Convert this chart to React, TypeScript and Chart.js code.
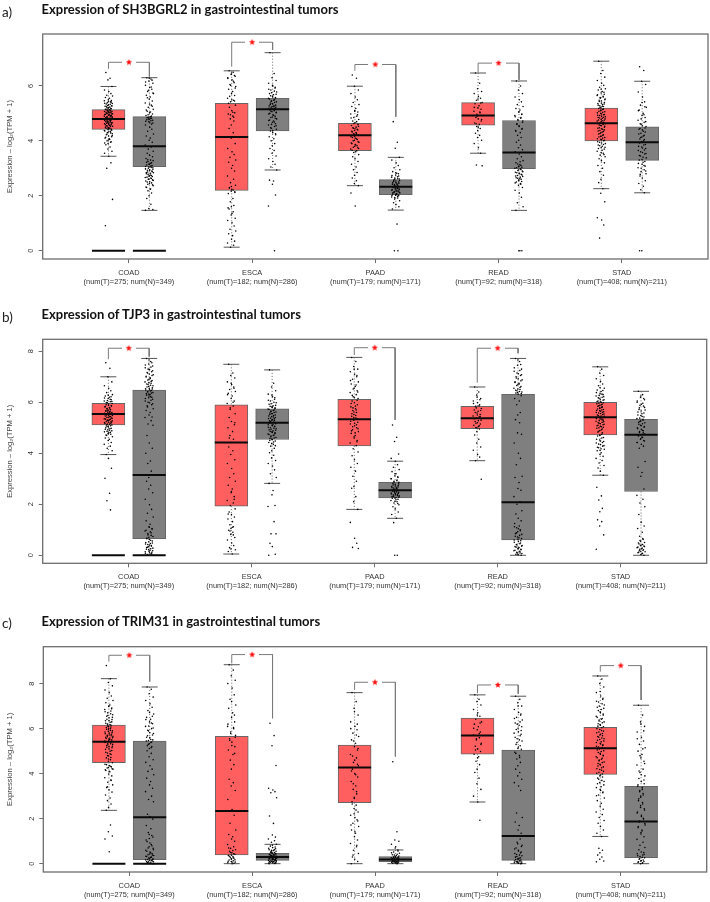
import React, { useEffect, useRef } from "react";
import { Chart, registerables } from "chart.js";

Chart.register(...registerables);

const categories = ["COAD", "ESCA", "PAAD", "READ", "STAD"];
const sampleLabels = [
  "(num(T)=275; num(N)=349)",
  "(num(T)=182; num(N)=286)",
  "(num(T)=179; num(N)=171)",
  "(num(T)=92; num(N)=318)",
  "(num(T)=408; num(N)=211)",
];
const yAxisLabel = "Expression \u2013 log\u2082(TPM + 1)";

// Each box: whisker top, q3, median, q1, whisker bottom; order COAD T, COAD N, ESCA T, ESCA N ...
const boxesA = [
  [5.98, 5.14, 4.8, 4.42, 3.44], [6.3, 4.88, 3.8, 3.06, 1.47],
  [6.55, 5.37, 4.14, 2.2, 0.13], [7.21, 5.55, 5.15, 4.36, 2.94],
  [5.99, 4.64, 4.2, 3.64, 2.37], [3.4, 2.59, 2.33, 2.04, 1.48],
  [6.47, 5.39, 4.92, 4.57, 3.55], [6.18, 4.74, 3.58, 2.99, 1.47],
  [6.9, 5.19, 4.64, 4.0, 2.26], [6.17, 4.51, 3.95, 3.29, 2.11],
];
const boxesB = [
  [7.0, 5.96, 5.54, 5.11, 3.95], [7.72, 6.48, 3.15, 0.65, 0],
  [7.49, 5.9, 4.42, 1.93, 0.05], [7.27, 5.74, 5.2, 4.54, 2.82],
  [7.76, 6.12, 5.33, 4.29, 1.8], [3.69, 2.86, 2.55, 2.25, 1.45],
  [6.6, 5.84, 5.37, 4.97, 3.71], [7.72, 6.31, 2.08, 0.6, 0],
  [7.39, 6.0, 5.41, 4.72, 3.14], [6.43, 5.33, 4.73, 2.5, 0],
];
const boxesC = [
  [8.22, 6.16, 5.42, 4.49, 2.37], [7.85, 5.45, 2.06, 0.18, 0],
  [8.84, 5.66, 2.34, 0.39, 0], [0.86, 0.46, 0.3, 0.15, 0],
  [7.6, 5.27, 4.27, 2.71, 0], [0.61, 0.31, 0.19, 0.09, 0],
  [7.5, 6.47, 5.69, 4.86, 2.74], [7.44, 5.05, 1.23, 0.15, 0],
  [8.34, 6.06, 5.13, 3.97, 1.21], [7.04, 3.44, 1.87, 0.27, 0],
];

// Brackets: category index, top, left end, right end
const bracketsA = [[0, 6.86, 6.62, 6.34], [1, 7.59, 6.7, 7.31], [2, 6.78, 6.55, 4.88], [3, 6.83, 6.49, 6.22]];
const bracketsB = [[0, 8.12, 7.69, 7.79], [2, 8.14, 7.85, 5.31], [3, 8.12, 6.77, 7.92]];
const bracketsC = [[0, 9.26, 8.98, 8.09], [1, 9.29, 8.9, 6.46], [2, 8.06, 7.72, 4.76], [3, 7.94, 7.57, 7.54], [4, 8.8, 8.53, 7.27]];

const zeroBarsAll = [0, 1];
const ticksA = [0, 2, 4, 6];
const ticksB = [0, 2, 4, 6, 8];
const ticksC = [0, 2, 4, 6, 8];

// Jitter pattern across a box's point column
const jitterSteps = [-0.62, 0.37, -0.13, 0.83, -0.94, 0.08, 0.58, -0.41, 0.97, -0.73, 0.22, -0.04, 0.69, -0.99, 0.46, -0.27, 0.91, -0.52, 0.03, 0.74, -0.81, 0.29, -0.34, 0.51, -0.09];

const pointsA = [
  [6.49,6.28,6.22,5.98,5.85,5.8,5.72,5.66,5.63,5.58,5.55,5.5,5.47,5.46,5.42,5.39,5.36,5.34,5.31,5.28,5.26,5.23,5.2,5.19,5.16,5.14,5.12,5.1,5.08,5.07,5.05,5.03,5.0,4.99,4.97,4.95,4.94,4.91,4.9,4.88,4.86,4.85,4.83,4.81,4.8,4.78,4.76,4.75,4.73,4.71,4.7,4.68,4.66,4.65,4.62,4.6,4.58,4.55,4.53,4.5,4.47,4.45,4.42,4.38,4.35,4.3,4.26,4.22,4.18,4.15,4.1,4.05,4.0,3.95,3.9,3.86,3.78,3.7,3.62,3.55,3.44,3.2,3.0,1.87,0.91],
  [6.3,6.25,6.18,6.1,6.02,5.94,5.88,5.8,5.72,5.66,5.6,5.52,5.45,5.38,5.3,5.22,5.15,5.08,5.02,4.98,4.92,4.88,4.85,4.82,4.8,4.77,4.73,4.7,4.65,4.58,4.5,4.42,4.35,4.25,4.18,4.1,4.02,3.95,3.85,3.78,3.7,3.62,3.55,3.48,3.42,3.36,3.3,3.25,3.2,3.16,3.12,3.08,3.05,3.02,2.98,2.95,2.9,2.87,2.84,2.8,2.76,2.73,2.7,2.67,2.63,2.6,2.56,2.5,2.45,2.4,2.32,2.25,2.18,2.1,2.0,1.9,1.69,1.54,1.5,1.47],
  [6.55,6.5,6.42,6.35,6.3,6.22,6.12,6.05,5.98,5.88,5.8,5.72,5.65,5.55,5.48,5.42,5.3,5.22,5.1,5.02,4.98,4.9,4.8,4.72,4.58,4.45,4.3,4.1,3.9,3.72,3.6,3.5,3.4,3.3,3.22,3.1,3.0,2.9,2.72,2.6,2.48,2.38,2.3,2.24,2.15,2.08,1.9,1.78,1.65,1.6,1.52,1.42,1.3,1.18,1.1,1.02,0.9,0.78,0.72,0.62,0.55,0.42,0.35,0.28,0.2,0.13],
  [7.21,6.45,6.3,6.2,6.1,6.0,5.92,5.85,5.78,5.72,5.68,5.62,5.58,5.55,5.5,5.46,5.42,5.38,5.34,5.3,5.27,5.24,5.2,5.18,5.15,5.12,5.1,5.06,5.02,4.98,4.95,4.9,4.85,4.8,4.76,4.72,4.68,4.62,4.58,4.52,4.46,4.42,4.36,4.3,4.22,4.15,4.08,4.0,3.9,3.82,3.72,3.65,3.55,3.45,3.35,3.25,3.15,3.05,2.94,2.57,2.54,2.42,2.03,1.63,0],
  [6.4,6.28,5.99,5.85,5.72,5.6,5.5,5.4,5.32,5.25,5.18,5.1,5.05,4.98,4.9,4.85,4.78,4.72,4.66,4.6,4.56,4.5,4.46,4.42,4.38,4.32,4.28,4.24,4.2,4.15,4.1,4.05,4.0,3.95,3.9,3.85,3.8,3.75,3.7,3.64,3.58,3.5,3.42,3.35,3.25,3.15,3.05,2.95,2.85,2.75,2.65,2.55,2.45,2.37,2.1,1.63],
  [4.7,3.95,3.73,3.4,3.3,3.2,3.1,3.02,2.95,2.88,2.82,2.76,2.72,2.68,2.62,2.6,2.56,2.52,2.48,2.46,2.42,2.4,2.37,2.34,2.32,2.3,2.27,2.25,2.22,2.2,2.17,2.15,2.12,2.1,2.07,2.05,2.02,2.0,1.96,1.92,1.88,1.82,1.75,1.68,1.6,1.52,0.97,0,0],
  [6.47,6.1,5.9,5.8,5.72,5.62,5.55,5.48,5.4,5.35,5.28,5.2,5.15,5.08,5.02,4.97,4.92,4.85,4.8,4.72,4.65,4.6,4.52,4.45,4.38,4.28,4.2,4.12,4.02,3.9,3.75,3.55,3.12,3.09],
  [6.18,6.0,5.85,5.72,5.6,5.5,5.42,5.32,5.25,5.18,5.12,5.05,4.98,4.92,4.85,4.78,4.72,4.62,4.55,4.45,4.38,4.3,4.2,4.12,4.02,3.95,3.85,3.75,3.68,3.6,3.52,3.42,3.35,3.28,3.2,3.14,3.08,3.04,3.0,2.96,2.92,2.88,2.84,2.8,2.76,2.72,2.68,2.64,2.6,2.55,2.5,2.45,2.38,2.3,2.2,2.1,1.95,1.75,1.6,1.47,0,0,0],
  [6.9,6.56,6.45,6.32,6.2,6.1,6.02,5.95,5.9,5.85,5.8,5.74,5.7,5.65,5.6,5.58,5.52,5.48,5.45,5.4,5.36,5.32,5.28,5.25,5.2,5.18,5.14,5.1,5.06,5.02,4.98,4.95,4.92,4.88,4.85,4.82,4.78,4.75,4.72,4.68,4.65,4.62,4.58,4.55,4.5,4.46,4.42,4.38,4.34,4.3,4.25,4.2,4.16,4.12,4.08,4.04,4.0,3.95,3.9,3.85,3.8,3.75,3.7,3.62,3.55,3.48,3.42,3.35,3.28,3.2,3.1,3.0,2.88,2.75,2.6,2.48,2.26,2.09,1.78,1.2,1.12,0.94,0.46],
  [6.7,6.56,6.17,6.05,5.78,5.6,5.42,5.3,5.22,5.12,5.0,4.92,4.85,4.75,4.68,4.6,4.52,4.45,4.4,4.32,4.25,4.18,4.12,4.05,3.98,3.92,3.85,3.78,3.72,3.65,3.58,3.52,3.45,3.38,3.3,3.22,3.15,3.08,3.02,2.95,2.88,2.8,2.72,2.65,2.55,2.45,2.35,2.22,2.11,0,0],
];
// Extra points read from the dense parts of each column
const densePointsA = [
  [5.44,5.41,5.37,5.33,5.29,5.27,5.24,5.21,5.17,5.15,5.13,5.11,5.09,5.06,5.04,5.02,5.01,4.98,4.96,4.93,4.92,4.89,4.87,4.84,4.82,4.79,4.77,4.74,4.72,4.69,4.67,4.64,4.63,4.61,4.59,4.56,4.54,4.52,4.49,4.46,4.44,4.41,4.39,4.36,4.33,4.29,4.24,4.19,4.13,4.08,4.03,3.97,3.92],
  [6.28,6.21,6.14,5.96,5.84,5.74,5.57,5.34,5.26,5.12,5.05,4.95,4.9,4.87,4.84,4.81,4.79,4.75,4.71,4.66,4.61,3.31,3.28,3.22,3.18,3.14,3.1,3.07,3.03,3.0,2.97,2.93,2.91,2.88,2.85,2.82,2.78,2.74,2.71,2.68,2.65,2.61,2.58,2.54,2.51,2.47,2.42,2.37,2.3,2.24],
  [6.47,6.38,6.27,6.17,6.02,5.92,5.62,5.5,5.45,5.37,5.04,4.95,4.86,2.34,2.28,2.21,2.17,2.12,1.56,1.36],
  [6.02,5.95,5.88,5.81,5.75,5.7,5.64,5.6,5.56,5.52,5.48,5.44,5.4,5.36,5.32,5.28,5.25,5.22,5.19,5.16,5.13,5.08,5.04,5.0,4.93,4.87,4.82,4.74,4.69,4.6,4.55,4.48,4.38,4.26],
  [5.08,4.95,4.83,4.7,4.63,4.53,4.48,4.44,4.4,4.35,4.3,4.26,4.22,4.17,4.12,4.08,4.02,3.97,3.92,3.87,3.82,3.77,3.72,3.66,3.6],
  [2.84,2.8,2.74,2.69,2.65,2.61,2.57,2.54,2.5,2.47,2.44,2.41,2.38,2.35,2.33,2.31,2.28,2.26,2.23,2.21,2.18,2.16,2.13,2.11,2.08,2.06,2.03,2.01,1.98,1.94],
  [5.52,5.38,5.22,5.05,4.9,4.78,4.62,4.5],
  [5.05,4.96,4.88,4.82,4.75,4.68,4.6,4.52,4.42,4.35,3.24,3.16,3.1,3.06,3.02,2.98,2.94,2.9,2.86,2.82,2.78,2.74,2.7,2.66,2.62,2.58,2.52,2.47,2.42],
  [5.88,5.77,5.68,5.62,5.55,5.5,5.43,5.38,5.34,5.3,5.26,5.22,5.16,5.12,5.08,5.04,5.0,4.96,4.93,4.9,4.86,4.83,4.8,4.76,4.73,4.7,4.66,4.63,4.6,4.56,4.53,4.48,4.44,4.4,4.36,4.32,4.27,4.22,4.18,4.14,4.1,4.06,4.02,3.97,3.92,3.87,3.82,3.77,3.72,3.66,3.58,3.5],
  [5.4,5.24,5.1,4.95,4.8,4.7,4.62,4.55,4.47,4.42,4.35,4.28,4.2,4.14,4.07,4.0,3.94,3.87,3.8,3.74,3.67,3.6,3.54,3.47,3.4,3.32,3.25,3.18,3.1,3.0,2.9,2.78],
];

const pointsB = [
  [7.55,7.33,7.0,6.8,6.65,6.55,6.45,6.38,6.3,6.25,6.2,6.15,6.1,6.05,6.02,5.98,5.95,5.9,5.88,5.85,5.82,5.78,5.76,5.72,5.7,5.67,5.64,5.62,5.6,5.57,5.55,5.53,5.5,5.48,5.46,5.43,5.4,5.38,5.35,5.33,5.3,5.27,5.25,5.22,5.2,5.17,5.14,5.12,5.08,5.05,5.0,4.96,4.92,4.88,4.84,4.8,4.75,4.7,4.65,4.6,4.55,4.5,4.42,4.35,4.28,4.2,4.1,3.95,3.8,3.41,3.02,2.43,2.14,1.78],
  [7.72,7.6,7.5,7.42,7.35,7.28,7.2,7.15,7.08,7.02,6.96,6.9,6.85,6.8,6.75,6.7,6.65,6.6,6.55,6.52,6.48,6.44,6.4,6.36,6.32,6.28,6.22,6.18,6.12,6.05,5.98,5.9,5.82,5.75,5.68,5.6,5.5,5.42,5.4,5.28,5.15,5.1,4.7,4.4,4.2,4.0,3.7,3.6,3.3,3.05,2.9,2.75,2.6,2.45,2.2,1.98,1.8,1.65,1.5,1.35,1.22,1.12,1.02,0.95,0.88,0.8,0.74,0.68,0.62,0.56,0.5,0.46,0.42,0.38,0.34,0.3,0.26,0.22,0.18,0.14,0.1,0.06,0.03,0],
  [7.49,7.15,7.05,6.95,6.8,6.7,6.6,6.5,6.42,6.35,6.25,6.15,6.05,5.95,5.85,5.72,5.55,5.4,5.25,5.12,5.0,4.85,4.7,4.55,4.42,4.25,4.1,3.95,3.75,3.6,3.4,3.2,3.05,2.9,2.75,2.6,2.45,2.3,2.15,2.05,1.95,1.82,1.7,1.6,1.5,1.42,1.32,1.2,1.12,1.05,0.98,0.9,0.82,0.7,0.6,0.48,0.38,0.3,0.22,0.15,0.05],
  [7.27,6.75,6.6,6.45,6.32,6.22,6.12,6.05,5.98,5.92,5.86,5.82,5.78,5.74,5.7,5.66,5.62,5.58,5.55,5.5,5.46,5.42,5.38,5.35,5.3,5.27,5.23,5.2,5.16,5.12,5.08,5.04,5,4.96,4.92,4.88,4.84,4.8,4.76,4.72,4.68,4.62,4.58,4.54,4.48,4.42,4.35,4.28,4.2,4.1,4.02,3.92,3.82,3.72,3.6,3.5,3.35,3.2,3.05,2.82,2.54,2.37,1.95,1.91,1.32,0.84,0.84,0.47,0.34,0.04,0],
  [7.76,7.6,7.4,7.3,7.2,7.1,7,6.9,6.8,6.72,6.62,6.55,6.45,6.38,6.3,6.22,6.15,6.05,5.98,5.9,5.82,5.75,5.68,5.6,5.52,5.45,5.38,5.3,5.22,5.15,5.08,5,4.92,4.85,4.78,4.7,4.6,4.5,4.4,4.3,4.18,4.05,3.9,3.75,3.6,3.45,3.3,3.1,2.9,2.7,2.63,2.3,2.1,1.8,1.29,0.67,0.47,0.31,0.27],
  [5.11,4.63,4.46,3.97,3.8,3.69,3.55,3.45,3.36,3.28,3.2,3.12,3.05,3,2.95,2.9,2.86,2.82,2.78,2.74,2.7,2.67,2.64,2.6,2.58,2.55,2.52,2.5,2.47,2.44,2.42,2.39,2.36,2.33,2.3,2.27,2.25,2.2,2.15,2.1,2.05,1.98,1.9,1.82,1.7,1.6,1.45,1.28,0,0],
  [6.6,6.4,6.28,6.15,6.05,5.98,5.9,5.84,5.76,5.7,5.65,5.58,5.52,5.46,5.42,5.37,5.3,5.25,5.2,5.15,5.1,5.05,5,4.95,4.85,4.72,4.55,4.4,4.25,4.12,3.95,3.85,3.71,2.98],
  [7.72,7.6,7.45,7.3,7.22,7.12,7.05,6.95,6.88,6.8,6.75,6.7,6.62,6.55,6.5,6.45,6.4,6.36,6.32,6.26,6.15,6.05,5.9,5.6,5.5,5.32,5.2,4.8,4.75,4.4,4.0,3.8,3.55,3.1,3.05,2.85,2.62,2.55,2.3,2.1,2.0,1.75,1.62,1.45,1.35,1.25,1.15,1.08,1.0,0.92,0.85,0.78,0.72,0.66,0.6,0.54,0.48,0.42,0.38,0.34,0.3,0.26,0.22,0.18,0.14,0.1,0.07,0.04,0.02,0],
  [7.39,7.3,7.15,7.05,6.92,6.82,6.72,6.65,6.55,6.48,6.42,6.35,6.3,6.25,6.2,6.15,6.1,6.05,6.02,5.98,5.94,5.9,5.86,5.82,5.78,5.74,5.7,5.67,5.63,5.6,5.56,5.52,5.48,5.45,5.41,5.38,5.34,5.3,5.26,5.22,5.18,5.14,5.1,5.06,5.02,4.98,4.92,4.86,4.8,4.72,4.68,4.6,4.52,4.46,4.4,4.34,4.28,4.22,4.16,4.1,4.02,3.95,3.88,3.8,3.72,3.62,3.52,3.42,3.3,3.14,2.67,2.33,2.17,1.84,1.71,1.39,1.32,1.15,0.8,0.24],
  [6.43,6.3,6.2,6.1,6,5.92,5.85,5.78,5.7,5.62,5.55,5.48,5.42,5.36,5.3,5.25,5.2,5.14,5.08,5.02,4.96,4.9,4.85,4.8,4.73,4.68,4.62,4.55,4.48,4.42,4.35,4.28,4.2,3.68,3.45,3.25,3.1,2.6,2.35,2.2,2.05,1.9,1.6,1.3,1.15,1.05,0.9,0.75,0.62,0.55,0.48,0.42,0.38,0.34,0.3,0.26,0.22,0.18,0.14,0.1,0.06,0.03,0],
];
const densePointsB = [
  [6.28,6.22,6.17,6.12,6.07,6.03,5.99,5.93,5.87,5.83,5.79,5.74,5.71,5.68,5.65,5.61,5.58,5.56,5.52,5.49,5.44,5.41,5.37,5.34,5.31,5.28,5.24,5.21,5.18,5.15,5.11,5.07,5.03,4.98,4.94,4.9,4.86,4.82,4.77,4.72],
  [7.66,7.55,7.46,7.38,7.3,7.24,7.17,7.11,7.05,6.99,6.93,6.87,6.82,6.77,6.72,6.67,6.62,6.57,6.53,6.49,6.46,6.42,6.38,6.34,6.3,6.25,6.2,6.15,6.08,6.0,5.94,5.86,1.1,1.05,0.98,0.92,0.85,0.78,0.71,0.65,0.59,0.53,0.48,0.44,0.4,0.36,0.32,0.28,0.24,0.2,0.16,0.12,0.08,0.05],
  [6.75,6.55,6.3,6.0,5.78,5.2,4.6,2.5,2.2,1.62,1.1,0.95,0.8,0.25],
  [6.28,6.18,6.08,6.0,5.94,5.88,5.84,5.8,5.76,5.72,5.68,5.64,5.6,5.56,5.52,5.48,5.44,5.4,5.36,5.32,5.29,5.25,5.21,5.18,5.14,5.1,5.06,5.02,4.98,4.94,4.9,4.86,4.82,4.78,4.74,4.7,4.65,4.6,4.56,4.5,4.44,4.38,4.3],
  [7.3,7.05,6.85,6.68,6.52,6.4,6.27,6.18,6.08,5.95,5.85,5.78,5.7,5.62,5.55,5.48,5.4,5.34,5.26,5.18,5.12,5.04,4.96,4.88,4.8,4.65,4.45],
  [3.2,3.08,3.0,2.92,2.87,2.8,2.76,2.72,2.68,2.65,2.62,2.59,2.56,2.54,2.51,2.48,2.45,2.43,2.4,2.37,2.34,2.31,2.28,2.24,2.18,2.12,2.03],
  [6.2,6.1,5.95,5.86,5.78,5.68,5.6,5.5,5.44,5.35,5.28,5.18,5.08,5.0],
  [7.66,7.48,7.35,7.25,7.15,7.08,7.0,6.92,6.84,6.78,6.72,6.66,6.58,6.52,6.47,6.42,6.38,6.34,1.12,1.04,0.96,0.88,0.82,0.75,0.69,0.63,0.57,0.51,0.45,0.4,0.36,0.32,0.28,0.24,0.2,0.16,0.12,0.09,0.05],
  [6.58,6.46,6.38,6.32,6.27,6.22,6.18,6.12,6.08,6.03,6,5.96,5.92,5.88,5.84,5.8,5.76,5.72,5.68,5.65,5.61,5.58,5.54,5.5,5.46,5.43,5.39,5.36,5.32,5.28,5.24,5.2,5.16,5.12,5.08,5.04,5,4.95,4.89,4.83,4.75,4.7,4.62,4.55,4.48,4.42,4.36,4.3,4.24,4.18,4.12],
  [6.25,6.15,6.05,5.96,5.88,5.8,5.72,5.66,5.58,5.5,5.44,5.38,5.33,5.27,5.22,5.16,5.1,5.05,5,4.94,4.88,4.82,4.76,4.7,4.64,4.58,4.5,4.42,0.66,0.58,0.5,0.44,0.4,0.36,0.32,0.28,0.24,0.2,0.16,0.12,0.08],
];

const pointsC = [
  [8.8,8.22,8.05,7.9,7.72,7.6,7.45,7.35,7.25,7.15,7.05,6.98,6.92,6.85,6.78,6.7,6.62,6.55,6.48,6.4,6.35,6.28,6.2,6.15,6.1,6.05,6,5.95,5.9,5.85,5.8,5.75,5.7,5.66,5.62,5.58,5.54,5.5,5.45,5.4,5.35,5.3,5.25,5.2,5.15,5.08,5,4.92,4.85,4.78,4.7,4.62,4.55,4.48,4.42,4.36,4.3,4.25,4.2,4.14,4.08,3.98,3.9,3.82,3.72,3.62,3.5,3.38,3.28,3.18,3.05,2.92,2.8,2.65,2.5,2.37,1.72,1.42,1.23,1.1,0.53],
  [7.85,7.75,7.55,7.4,7.25,7.1,6.95,6.8,6.65,6.5,6.42,6.3,6.22,6.1,6,5.9,5.78,5.68,5.6,5.5,5.45,5.38,5.3,5.2,5.12,5.02,4.9,4.75,4.62,4.5,4.35,4.2,4.1,3.95,3.8,3.65,3.5,3.35,3.2,3,2.85,2.75,2.2,2.1,1.98,1.7,1.55,1.38,1.25,1.12,0.98,0.85,0.75,0.68,0.6,0.52,0.45,0.4,0.36,0.32,0.28,0.24,0.2,0.17,0.14,0.11,0.08,0.05,0.02,0],
  [8.84,8.6,8.35,8.15,8,7.8,7.5,7.3,7.05,6.9,6.7,6.5,6.3,6.1,6,5.85,5.7,5.55,5.4,5.2,5.05,4.85,4.6,4.4,4.2,3.75,3.6,3.45,3.25,2.85,2.4,2.15,1.8,1.5,1.3,1.2,1.1,1,0.85,0.75,0.68,0.62,0.55,0.48,0.42,0.36,0.32,0.28,0.24,0.2,0.16,0.13,0.1,0.07,0.04,0],
  [6.24,5.69,5.24,4.36,3.35,3.27,3.2,3.15,2.93,2.12,1.79,1.27,1.18,1.1,1.02,0.95,0.86,0.78,0.72,0.66,0.62,0.58,0.54,0.5,0.46,0.42,0.4,0.37,0.34,0.32,0.3,0.28,0.26,0.24,0.22,0.2,0.18,0.16,0.14,0.12,0.1,0.08,0.06,0.04,0.02,0],
  [7.6,7.2,6.9,6.6,6.3,6.1,5.95,5.8,5.65,5.5,5.35,5.2,5.05,4.85,4.7,4.5,4.35,4.2,4,3.85,3.65,3.45,3.3,3.1,2.9,2.75,2.6,2.45,2.3,2.15,2.05,1.95,1.8,1.65,1.5,1.35,1.2,1.05,0.9,0.75,0.6,0.45,0.3,0.2,0.1,0],
  [4.53,1.42,1.05,1,0.86,0.75,0.61,0.52,0.46,0.4,0.36,0.32,0.29,0.26,0.24,0.22,0.2,0.18,0.16,0.14,0.12,0.1,0.08,0.06,0.04,0.02,0],
  [7.5,7.3,7.2,7.05,6.85,6.7,6.55,6.42,6.3,6.2,6.08,5.95,5.85,5.72,5.6,5.5,5.35,5.22,5.1,4.98,4.86,4.75,4.55,4.4,4.2,4.05,3.8,3.55,3.3,3.0,2.74,1.93],
  [7.44,7.3,7.15,7,6.85,6.72,6.6,6.5,6.38,6.25,6.15,6.02,5.92,5.8,5.68,5.55,5.45,5.3,5.18,5.08,4.95,4.8,4.65,4.5,4.35,4.2,4.05,3.9,3.75,3.6,3.45,3.25,2.25,2.05,1.85,1.7,1.5,1.35,1.22,1.1,0.95,0.82,0.7,0.6,0.52,0.45,0.38,0.32,0.26,0.22,0.18,0.14,0.1,0.07,0.04,0.02,0],
  [8.34,8.2,8.0,7.85,7.6,7.45,7.3,7.18,7.05,6.95,6.85,6.75,6.65,6.55,6.45,6.38,6.3,6.22,6.15,6.08,6,5.92,5.85,5.78,5.72,5.65,5.58,5.52,5.45,5.38,5.32,5.25,5.18,5.13,5.05,4.98,4.9,4.82,4.75,4.68,4.6,4.52,4.45,4.38,4.3,4.22,4.15,4.06,3.98,3.9,3.8,3.7,3.6,3.5,3.38,3.25,3.15,3.05,2.92,2.8,2.68,2.55,2.42,2.3,2.18,2.05,1.92,1.8,1.65,1.5,1.35,1.21,0.68,0.6,0.48,0.38,0.3,0.2,0.12,0.08],
  [7.04,6.6,6.3,6.1,5.85,5.62,5.45,5.3,5.15,5,4.85,4.7,4.55,4.38,4.2,4.05,3.9,3.78,3.65,3.55,3.44,3.3,3.2,3.05,2.95,2.8,2.65,2.5,2.38,2.25,2.1,1.98,1.85,1.72,1.6,1.45,1.32,1.2,1.08,0.95,0.82,0.72,0.62,0.52,0.42,0.35,0.28,0.22,0.16,0.12,0.08,0.04,0],
];
const densePointsC = [
  [7.0,6.88,6.75,6.66,6.58,6.5,6.42,6.36,6.3,6.24,6.18,6.12,6.07,6.02,5.97,5.92,5.87,5.82,5.77,5.72,5.68,5.64,5.6,5.56,5.52,5.47,5.43,5.38,5.33,5.28,5.22,5.17,5.1,5.03,4.95,4.88,4.8,4.72,4.65,4.4,4.33,4.27,4.22,4.17,4.11,3.7,3.42],
  [6.72,6.55,6.4,6.25,6.12,6.03,5.93,5.82,5.72,5.62,5.52,5.47,5.41,5.33,5.24,5.15,1.3,1.18,1.05,0.92,0.8,0.7,0.62,0.55,0.48,0.43,0.38,0.33,0.29,0.25,0.21,0.18,0.15,0.12,0.09,0.06,0.03],
  [7.2,6.6,6.2,6.05,5.78,5.62,5.48,5.25,4.9,0.7,0.58,0.5,0.44,0.38,0.33,0.26,0.22,0.17,0.11,0.06,0.02],
  [0.82,0.74,0.68,0.63,0.59,0.55,0.51,0.47,0.44,0.41,0.38,0.35,0.33,0.31,0.29,0.27,0.25,0.23,0.21,0.19,0.17,0.15,0.13,0.11,0.09,0.07,0.05,0.03,0.01,0.5,0.43,0.36,0.24,0.16,0.08],
  [6.75,6.2,6.0,5.72,5.45,5.12,4.78,4.6,4.42,4.12,3.95,3.55,3.2,2.95,2.65,2.38,2.22,1.9,1.72,1.42,0.82,0.38],
  [0.7,0.56,0.48,0.42,0.38,0.34,0.3,0.27,0.25,0.23,0.21,0.19,0.17,0.15,0.13,0.11,0.09,0.07,0.05,0.03,0.01,0.28,0.2,0.12,0.06],
  [6.6,6.25,6.02,5.78,5.55,5.3,5.05,4.7],
  [7.0,6.65,6.45,6.3,6.2,6.08,5.96,5.86,5.75,5.62,5.5,5.38,5.24,5.12,4.9,4.72,0.88,0.76,0.65,0.56,0.48,0.41,0.35,0.29,0.24,0.2,0.16,0.12,0.08,0.05,0.01,0.09,0.03],
  [7.65,7.35,7.22,7.1,7.0,6.9,6.8,6.7,6.6,6.5,6.42,6.34,6.26,6.18,6.11,6.04,5.96,5.89,5.82,5.75,5.68,5.62,5.55,5.48,5.42,5.35,5.28,5.22,5.16,5.1,5.02,4.94,4.86,4.79,4.71,4.64,4.56,4.49,4.42,4.34,4.26,4.18,4.1,4.02,3.94,3.85,3.75,3.65,3.55,3.42,3.3,3.18,3.02],
  [6.2,5.9,5.55,5.1,4.8,4.45,4.12,3.95,3.72,3.5,3.38,3.25,3.12,3.0,2.88,2.72,2.58,2.44,2.3,2.15,2.02,1.9,1.78,1.65,1.5,1.38,0.5,0.44,0.38,0.32,0.26,0.2,0.14,0.1,0.06,0.02],
];

const OFFSET = 0.166;
const JITTER = 0.034;
const RED = "#ff5f5f";
const GREY = "#7f7f7f";
const EDGE = "#666666";

const boxX = (i: number) => Math.floor(i / 2) + 1 + (i % 2 ? OFFSET : -OFFSET);

function makeStar() {
  const c = document.createElement("canvas");
  c.width = 14;
  c.height = 8;
  const g = c.getContext("2d")!;
  g.fillStyle = "#ffffff";
  g.fillRect(0, 0, 14, 8);
  g.fillStyle = "#ff1010";
  g.beginPath();
  for (let k = 0; k < 10; k++) {
    const r = k % 2 ? 1.4 : 3.3;
    const a = -Math.PI / 2 + (k * Math.PI) / 5;
    g.lineTo(7 + r * Math.cos(a), 4 + r * Math.sin(a));
  }
  g.closePath();
  g.fill();
  return c;
}

const frame = {
  id: "frame",
  afterDatasetsDraw(chart: any) {
    const { ctx, chartArea: a } = chart;
    ctx.save();
    ctx.strokeStyle = "#6e6e6e";
    ctx.lineWidth = 1.3;
    ctx.strokeRect(a.left, a.top, a.right - a.left, a.bottom - a.top);
    ctx.restore();
  },
};

type PanelProps = {
  top: number; height: number; boxes: number[][]; points: number[][]; dense: number[][]; brackets: number[][];
  yTicks: number[]; yMin: number; yMax: number; padTop: number; padRight: number; axisW: number; axisH: number;
};

function Panel(p: PanelProps) {
  const ref = useRef<HTMLCanvasElement>(null);
  useEffect(() => {
    const jitterPts: any[] = [];
    p.points.forEach((vals, i) => {
      vals.forEach((y, j) => {
        jitterPts.push({ x: boxX(i) + jitterSteps[j % jitterSteps.length] * JITTER, y });
      });
    });
    p.dense.forEach((vals, i) => {
      vals.forEach((y, j) => {
        jitterPts.push({ x: boxX(i) + jitterSteps[(j + 11) % jitterSteps.length] * JITTER * 0.92, y });
      });
    });
    const stems: any[] = [];
    p.boxes.forEach((b, i) => {
      const x = boxX(i);
      stems.push({ x, y: b[0] }, { x, y: b[1] }, { x, y: NaN }, { x, y: b[3] }, { x, y: b[4] }, { x, y: NaN });
    });
    const caps: any[] = [];
    p.boxes.forEach((b, i) => caps.push({ x: boxX(i), y: b[0] }, { x: boxX(i), y: b[4] }));
    const brk: any[] = [];
    const stars: any[] = [];
    p.brackets.forEach(([c, t, l, r]) => {
      const xl = c + 1 - OFFSET;
      const xr = c + 1 + OFFSET;
      brk.push({ x: xl, y: l }, { x: xl, y: t }, { x: xr, y: t }, { x: xr, y: r }, { x: xr, y: NaN });
      stars.push({ x: c + 1, y: t });
    });
    const chart = new Chart(ref.current!, {
      type: "bar",
      data: {
        datasets: [
          {
            type: "scatter", order: 1, data: stars, pointStyle: makeStar() as any, pointRadius: 7,
            showLine: false,
          },
          {
            type: "scatter", order: 2, showLine: false, pointStyle: "line", pointRadius: 16.5, pointBorderWidth: 2,
            pointBorderColor: "#0a0a0a", data: zeroBarsAll.map((i) => ({ x: boxX(i), y: 0 })),
          },
          {
            type: "scatter", order: 3, showLine: false, pointStyle: "line", pointRadius: 16.5, pointBorderWidth: 2,
            pointBorderColor: "#0a0a0a", data: p.boxes.map((b, i) => ({ x: boxX(i), y: b[2] })),
          },
          {
            type: "scatter", order: 4, showLine: false, pointRadius: 0.78, pointBorderWidth: 0,
            pointBackgroundColor: "#000000", data: jitterPts,
          },
          {
            type: "scatter", order: 5, showLine: false, pointStyle: "line", pointRadius: 8, pointBorderWidth: 1,
            pointBorderColor: "#555555", data: caps,
          },
          {
            type: "scatter", order: 6, showLine: true, pointRadius: 0, borderWidth: 0.8, borderColor: "#444444",
            borderDash: [1, 2], spanGaps: false, data: stems,
          },
          {
            type: "bar", order: 7, barThickness: 33, borderWidth: 1, borderColor: EDGE, borderSkipped: false,
            backgroundColor: p.boxes.map((_, i) => (i % 2 ? GREY : RED)),
            data: p.boxes.map((b, i) => ({ x: boxX(i), y: [b[3], b[1]] })),
          },
          {
            type: "scatter", order: 8, showLine: true, pointRadius: 0, borderWidth: 1, borderColor: "#7a7a7a",
            spanGaps: false, data: brk,
          },
        ] as any,
      },
      options: {
        animation: false,
        responsive: false,
        events: [],
        layout: { autoPadding: false, padding: { top: p.padTop, right: p.padRight, left: 0, bottom: 0 } },
        plugins: { legend: { display: false }, tooltip: { enabled: false }, title: { display: false } },
        scales: {
          x: {
            type: "linear", min: 0.3, max: 5.7, offset: false,
            grid: { offset: false, drawOnChartArea: false, drawTicks: true, tickLength: 4, color: "#6e6e6e" },
            border: { display: false },
            afterBuildTicks(s: any) { s.ticks = categories.map((_, i) => ({ value: i + 1 })); },
            afterFit(s: any) { s.height = p.axisH; s.paddingLeft = 0; s.paddingRight = 0; },
            ticks: {
              autoSkip: false, minRotation: 0, maxRotation: 0, padding: 5, color: "#333333",
              font: { family: "'Liberation Sans'", size: 7.4, lineHeight: 1.22 },
              callback: (v: any) => [categories[v - 1], sampleLabels[v - 1]],
            },
          },
          y: {
            min: p.yMin, max: p.yMax,
            grid: { drawOnChartArea: false, drawTicks: true, tickLength: 4, color: "#6e6e6e" },
            border: { display: false },
            afterBuildTicks(s: any) { s.ticks = p.yTicks.map((value) => ({ value })); },
            afterFit(s: any) { s.width = p.axisW; s.paddingTop = 0; s.paddingBottom = 0; },
            ticks: {
              autoSkip: false, minRotation: 90, maxRotation: 90, crossAlign: "center", padding: 5.5, color: "#333333",
              font: { family: "'Liberation Sans'", size: 7.4 },
            },
            title: {
              display: true, text: yAxisLabel, color: "#444444", padding: { top: 5, bottom: 0 },
              font: { family: "'Liberation Sans'", size: 7.6, weight: "normal" },
            },
          },
        },
      } as any,
      plugins: [frame],
    });
    return () => chart.destroy();
  }, []);
  return (
    <canvas
      ref={ref}
      width={710}
      height={p.height}
      style={{ position: "absolute", left: 0, top: p.top, width: 710, height: p.height, display: "block" }}
    />
  );
}

const headings = [
  { letter: "a)", letterY: 12, title: "Expression of SH3BGRL2 in gastrointestinal tumors", titleY: 9 },
  { letter: "b)", letterY: 317, title: "Expression of TJP3 in gastrointestinal tumors", titleY: 314 },
  { letter: "c)", letterY: 622.7, title: "Expression of TRIM31 in gastrointestinal tumors", titleY: 620.7 },
];

export default function App() {
  return (
    <div style={{ position: "absolute", left: 0, top: 0, width: 710, height: 902, overflow: "hidden", background: "#fff" }}>
      <Panel top={0} height={300} boxes={boxesA} points={pointsA} dense={densePointsA} brackets={bracketsA} yTicks={ticksA}
        yMin={-0.3} yMax={7.89} padTop={34} padRight={2} axisW={42.7} axisH={41} />
      <Panel top={300} height={300} boxes={boxesB} points={pointsB} dense={densePointsB} brackets={bracketsB} yTicks={ticksB}
        yMin={-0.314} yMax={8.47} padTop={39.3} padRight={3.3} axisW={42.7} axisH={36.7} />
      <Panel top={600} height={302} boxes={boxesC} points={pointsC} dense={densePointsC} brackets={bracketsC} yTicks={ticksC}
        yMin={-0.37} yMax={9.64} padTop={46.7} padRight={3.3} axisW={43.3} axisH={30} />
      {headings.map((h) => (
        <React.Fragment key={h.letter}>
          <div style={{ position: "absolute", left: 2, top: h.letterY, transform: "translateY(-50%)", font: "400 13.5px Lato", color: "#222", whiteSpace: "nowrap" }}>{h.letter}</div>
          <div style={{ position: "absolute", left: 41.5, top: h.titleY, transform: "translateY(-50%)", font: "700 13px Lato", color: "#111", whiteSpace: "nowrap" }}>{h.title}</div>
        </React.Fragment>
      ))}
    </div>
  );
}
